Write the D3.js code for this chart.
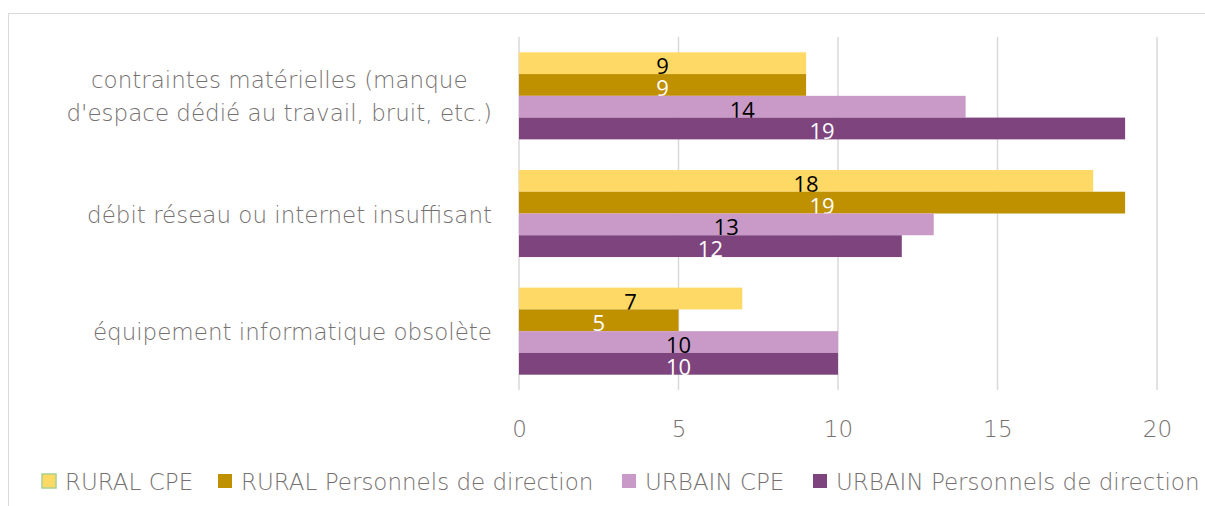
<!DOCTYPE html>
<html>
<head>
<meta charset="utf-8">
<script src="https://cdn.jsdelivr.net/npm/d3@7"></script>
<style>
  body { margin: 0; background: #fff; }
  svg { display: block; font-family: "Open Sans", sans-serif; }
  .gray { font-family: "DejaVu Sans", sans-serif; font-weight: 200; }
</style>
</head>
<body>
<div class="graph-container"></div>
<script>
// data
const categories = [
    ["contraintes matérielles (manque", "d'espace dédié au travail, bruit, etc.)"],
    ["débit réseau ou internet insuffisant"],
    ["équipement informatique obsolète"]
];
const seriesNames = ["RURAL CPE", "RURAL Personnels de direction", "URBAIN CPE", "URBAIN Personnels de direction"];
const ruralCPE = [9, 18, 7];
const ruralDirection = [9, 19, 5];
const urbainCPE = [14, 13, 10];
const urbainDirection = [19, 12, 10];
const xTicks = [0, 5, 10, 15, 20];

// graph constants
const w = 1205;
const h = 506;
const fontSize = 23;
const colors = ['#FFD966', '#BF9000', '#C99AC7', '#7E447D'];
const labelColors = ['#000', '#fff', '#000', '#fff'];
const textGray = '#767171';
const values = [ruralCPE, ruralDirection, urbainCPE, urbainDirection];

const svg = d3.select('div.graph-container')
    .append('svg')
    .attr('width', w)
    .attr('height', h);

// outer frame
svg.append('rect')
    .attr('x', 8.5).attr('y', 13.5)
    .attr('width', w).attr('height', h)
    .attr('fill', 'none')
    .attr('stroke', '#d9d9d9')
    .attr('stroke-width', 1);

const xScale = d3.scaleLinear()
    .domain([0, 20])
    .range([519, 1157]);

const yScale = d3.scaleBand()
    .domain(d3.range(categories.length))
    .range([37, 390])
    .paddingInner(0.26)
    .paddingOuter(0.13);

const ySub = d3.scaleBand()
    .domain(d3.range(seriesNames.length))
    .range([0, yScale.bandwidth()]);

// gridlines
svg.append('g')
    .selectAll('line')
    .data(xTicks)
    .enter()
    .append('line')
    .attr('x1', xScale).attr('x2', xScale)
    .attr('y1', 37).attr('y2', 390)
    .attr('stroke', '#d9d9d9')
    .attr('stroke-width', 1.5);

// x axis labels
const xAxis = d3.axisBottom(xScale).tickValues(xTicks).tickSize(0).tickPadding(0);
const gx = svg.append('g')
    .attr('transform', 'translate(0, 421)')
    .call(xAxis);
gx.select('.domain').remove();
gx.selectAll('text')
    .attr('class', 'gray')
    .attr('fill', textGray)
    .attr('font-size', fontSize)
    .attr('font-family', null);

// category labels (multi-line labels are centred as a block, block right-aligned)
const labelRight = 492;
const catG = svg.append('g')
    .selectAll('text')
    .data(categories)
    .enter()
    .append('text')
    .attr('class', 'gray')
    .attr('fill', textGray)
    .attr('font-size', fontSize)
    .attr('y', (d, i) => yScale(i) + yScale.bandwidth() / 2);
catG.selectAll('tspan')
    .data(d => d.map((line, j) => ({ line, j, n: d.length })))
    .enter()
    .append('tspan')
    .attr('x', labelRight)
    .attr('text-anchor', 'end')
    .attr('dy', d => d.j === 0 ? (-(d.n - 1) * 33 / 2 + 9) : 33)
    .text(d => d.line);
catG.each(function () {
    const spans = d3.select(this).selectAll('tspan');
    if (spans.size() < 2) return;
    const maxW = d3.max(spans.nodes(), n => n.getComputedTextLength());
    spans.attr('text-anchor', 'middle').attr('x', labelRight - maxW / 2);
});

// bars
values.forEach((series, s) => {
    const g = svg.append('g');
    g.selectAll('rect')
        .data(series)
        .enter()
        .append('rect')
        .attr('x', xScale(0))
        .attr('y', (d, i) => yScale(i) + ySub(s))
        .attr('width', d => xScale(d) - xScale(0))
        .attr('height', ySub.bandwidth())
        .attr('fill', colors[s]);
    g.selectAll('text')
        .data(series)
        .enter()
        .append('text')
        .attr('x', d => xScale(d / 2))
        .attr('y', (d, i) => yScale(i) + ySub(s) + ySub.bandwidth() / 2 + 11)
        .attr('text-anchor', 'middle')
        .attr('font-size', 22)
        .attr('fill', labelColors[s])
        .text(d => d);
});

// legend
const legendX = [42, 218, 622, 813];
const legend = svg.append('g')
    .selectAll('g')
    .data(seriesNames)
    .enter()
    .append('g')
    .attr('transform', (d, i) => `translate(${legendX[i]}, 474)`);
legend.append('rect')
    .attr('width', 14).attr('height', 14)
    .attr('fill', (d, i) => colors[i])
    .attr('stroke', (d, i) => i === 0 ? '#A9D18E' : 'none')
    .attr('stroke-width', 1.5);
legend.append('text')
    .attr('class', 'gray')
    .attr('x', 23)
    .attr('y', 16)
    .attr('fill', textGray)
    .attr('font-size', fontSize)
    .text(d => d);
</script>
</body>
</html>
